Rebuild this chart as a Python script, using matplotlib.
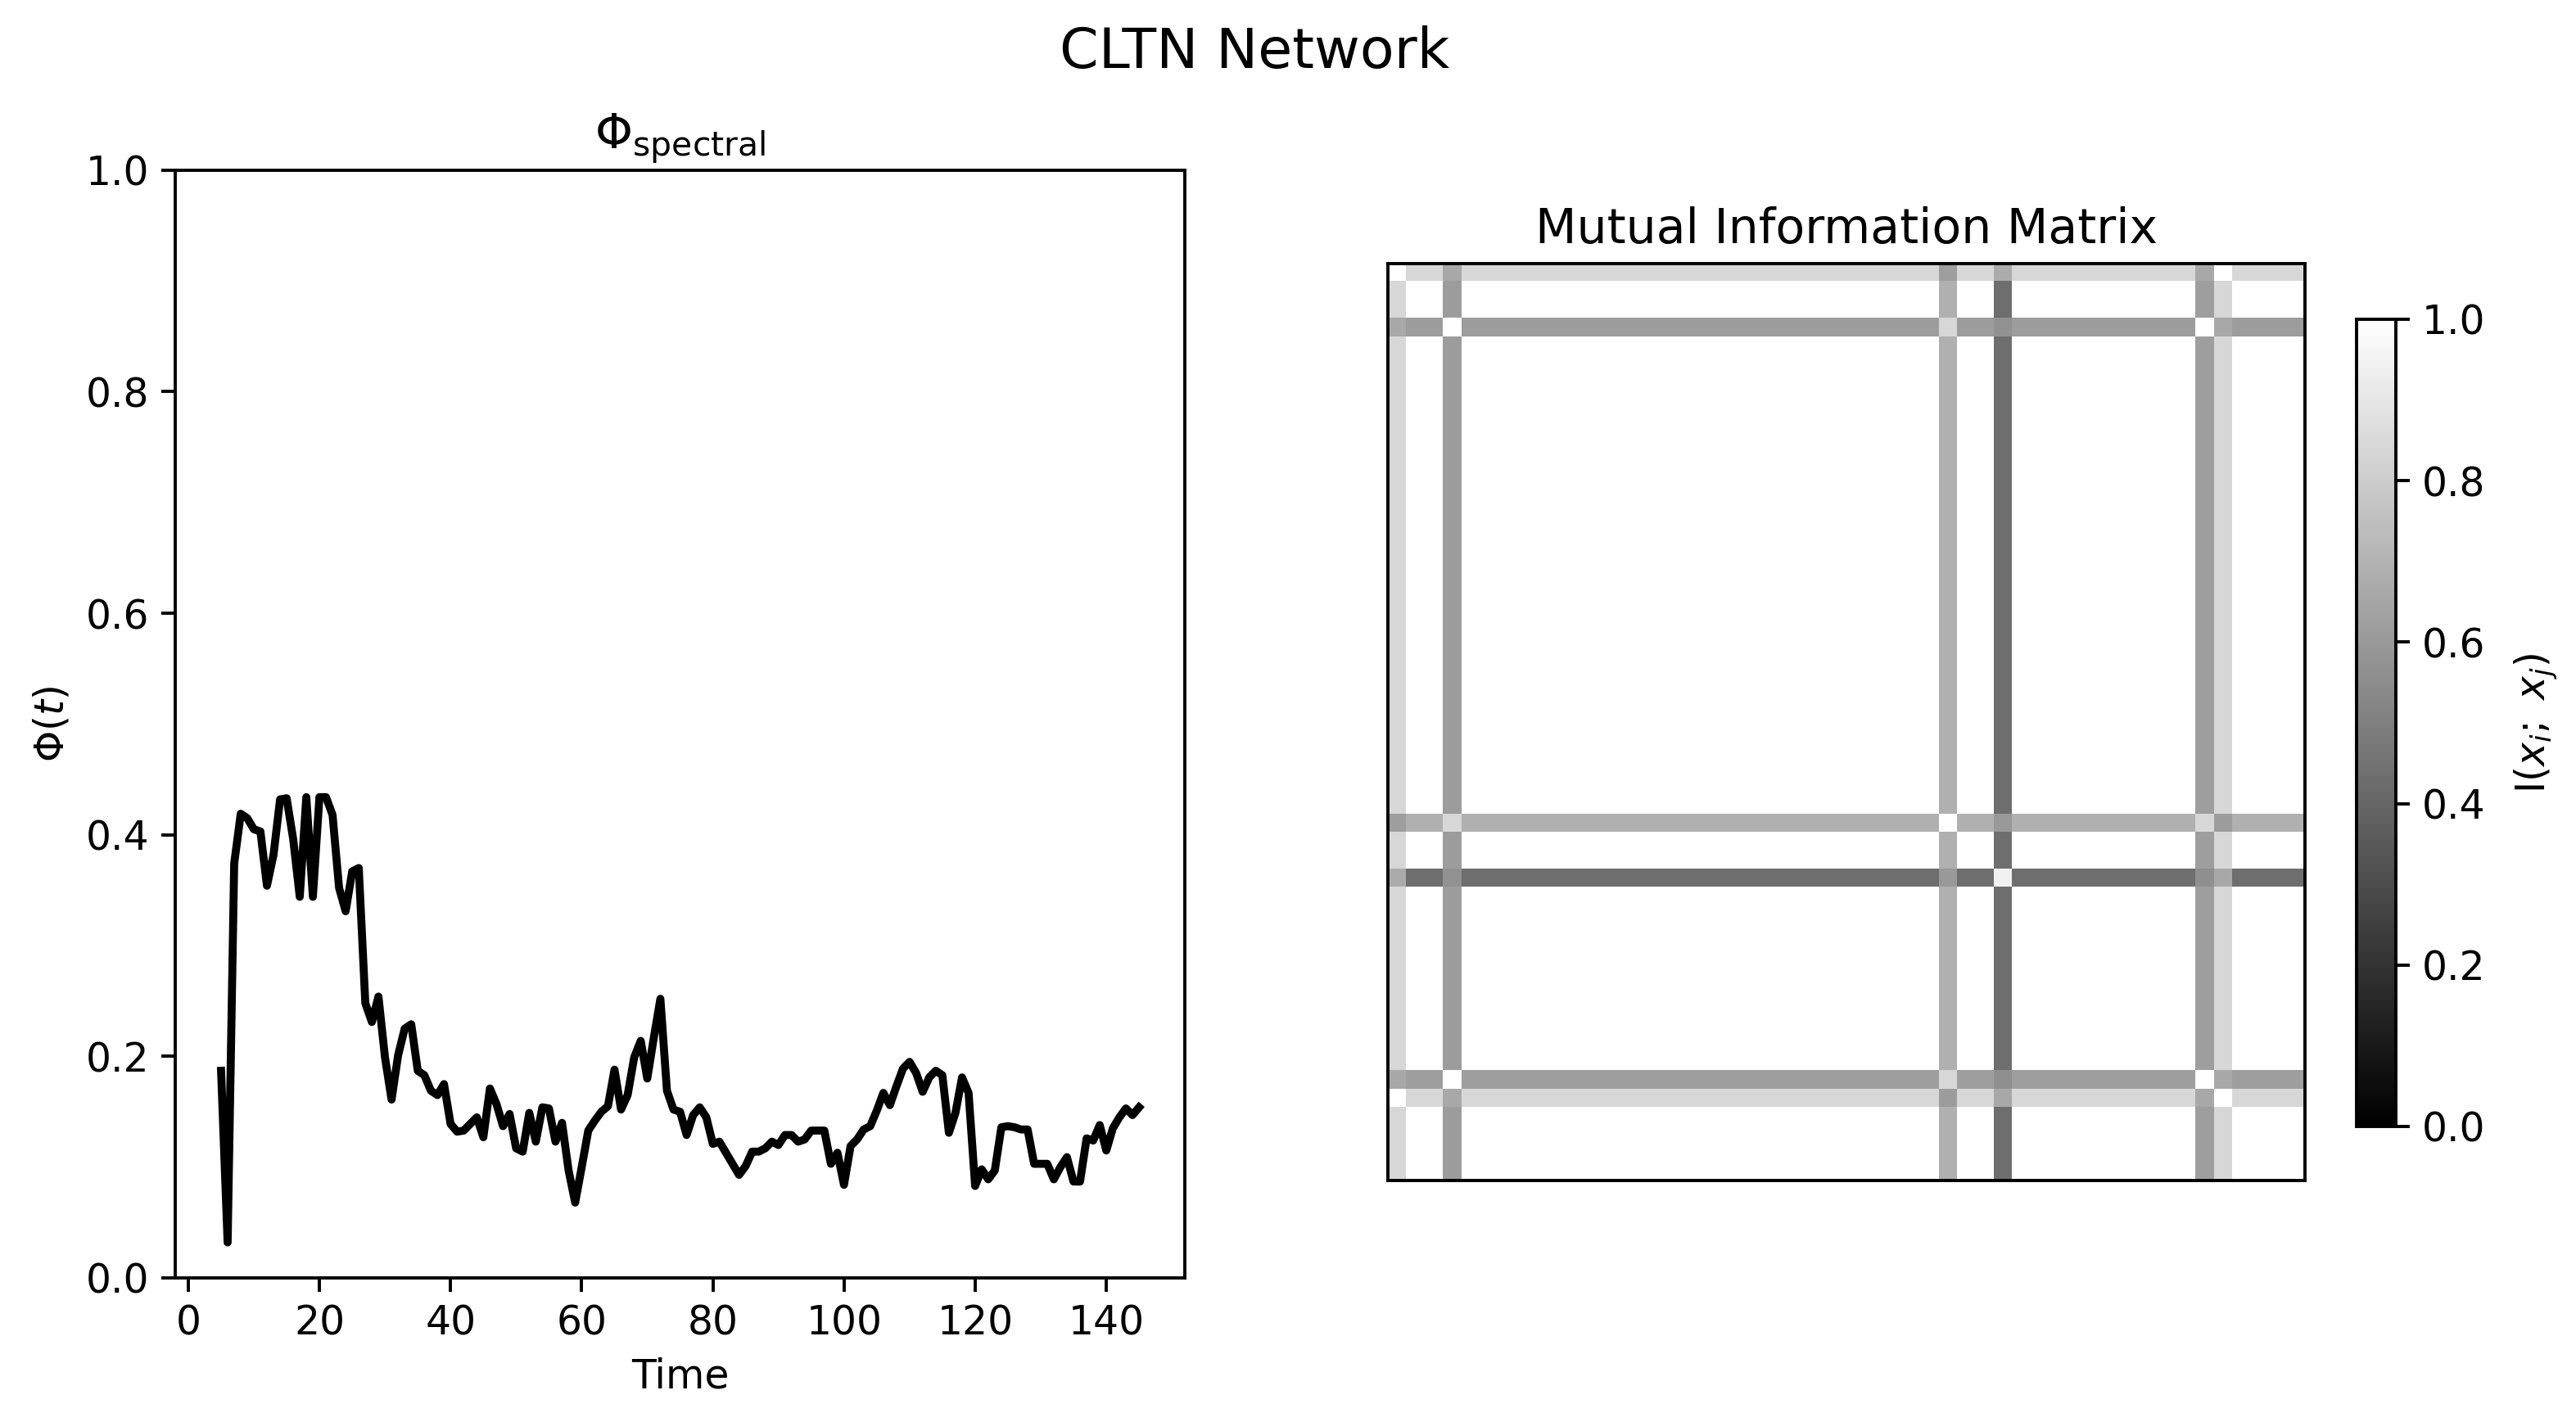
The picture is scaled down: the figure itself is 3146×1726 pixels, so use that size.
import numpy as np
import matplotlib
matplotlib.use("Agg")
import matplotlib.pyplot as plt

# time steps of the spectral phi trace
time_steps = list(range(5, 146))

# phi values (t = 5 .. 145)
phi_values = [
    0.187, 0.032, 0.374, 0.419, 0.415, 0.405, 0.403, 0.354, 0.382, 0.432,
    0.433, 0.396, 0.344, 0.434, 0.344, 0.434, 0.434, 0.418, 0.352, 0.331,
    0.367, 0.370, 0.248, 0.231, 0.254, 0.199, 0.161, 0.201, 0.225, 0.229,
    0.187, 0.183, 0.169, 0.165, 0.175, 0.139, 0.132, 0.133, 0.139, 0.145,
    0.127, 0.171, 0.157, 0.137, 0.148, 0.117, 0.114, 0.149, 0.123, 0.154,
    0.153, 0.123, 0.140, 0.097, 0.068, 0.100, 0.133, 0.142, 0.150, 0.155,
    0.188, 0.152, 0.165, 0.199, 0.214, 0.180, 0.217, 0.252, 0.169, 0.152,
    0.150, 0.129, 0.147, 0.154, 0.145, 0.121, 0.123, 0.113, 0.103, 0.093,
    0.101, 0.114, 0.114, 0.117, 0.123, 0.120, 0.129, 0.129, 0.123, 0.125,
    0.133, 0.133, 0.133, 0.103, 0.113, 0.084, 0.119, 0.125, 0.134, 0.137,
    0.151, 0.167, 0.156, 0.173, 0.189, 0.195, 0.185, 0.168, 0.181, 0.187,
    0.183, 0.131, 0.149, 0.181, 0.167, 0.083, 0.098, 0.089, 0.097, 0.136,
    0.137, 0.136, 0.134, 0.134, 0.103, 0.103, 0.103, 0.089, 0.100, 0.109,
    0.087, 0.087, 0.126, 0.124, 0.138, 0.115, 0.135, 0.145, 0.153, 0.147,
    0.154,
]

# mutual information matrix: all ones except a few nodes
n_nodes = 50
special_nodes = [0, 3, 30, 33, 44, 45]
# MI of each special node with every ordinary node
special_levels = [0.84, 0.61, 0.69, 0.43, 0.62, 0.84]
# MI among the special nodes (same order as special_nodes)
special_block = [
    [1.00, 0.66, 0.62, 0.67, 0.66, 1.00],
    [0.66, 1.00, 0.84, 0.57, 1.00, 0.66],
    [0.62, 0.84, 1.00, 0.60, 0.84, 0.61],
    [0.67, 0.57, 0.60, 0.94, 0.56, 0.66],
    [0.66, 1.00, 0.84, 0.56, 1.00, 0.66],
    [1.00, 0.66, 0.61, 0.66, 0.66, 1.00],
]

mi = np.ones((n_nodes, n_nodes))
for node, level in zip(special_nodes, special_levels):
    mi[node, :] = level
    mi[:, node] = level
for a, i in enumerate(special_nodes):
    for b, j in enumerate(special_nodes):
        mi[i, j] = special_block[a][b]

# the original was rendered a bit larger than 300 dpi defaults
s = 1.17
plt.rcParams.update({
    "font.size": 10 * s,
    "axes.titlesize": 12 * s,
    "axes.linewidth": 0.8 * s,
    "xtick.major.size": 3.5 * s,
    "ytick.major.size": 3.5 * s,
    "xtick.major.width": 0.8 * s,
    "ytick.major.width": 0.8 * s,
})

fig = plt.figure(figsize=(3146 / 300, 1726 / 300), dpi=300)
fig.suptitle("CLTN Network", fontsize=14 * s, x=0.487, y=0.982)

# left: phi over time
ax1 = fig.add_axes([0.068, 0.0956, 0.392, 0.784])
ax1.plot(time_steps, phi_values, color="black", linewidth=2 * s)
ax1.set_ylim(0, 1)
ax1.set_title(r"$\Phi_{\mathrm{spectral}}$")
ax1.set_xlabel("Time")
ax1.set_ylabel(r"$\Phi(t)$")

# right: mutual information heatmap
ax2 = fig.add_axes([0.5385, 0.1645, 0.3566, 0.6489])
im = ax2.imshow(mi, cmap="gray", vmin=0, vmax=1, interpolation="nearest")
ax2.set_xticks([])
ax2.set_yticks([])
ax2.set_title("Mutual Information Matrix")

cax = fig.add_axes([0.9148, 0.2028, 0.0153, 0.5713])
cbar = fig.colorbar(im, cax=cax)
cbar.set_label(r"I$(x_i;\ x_j)$", labelpad=8)

fig.savefig("out.png", dpi=300)
